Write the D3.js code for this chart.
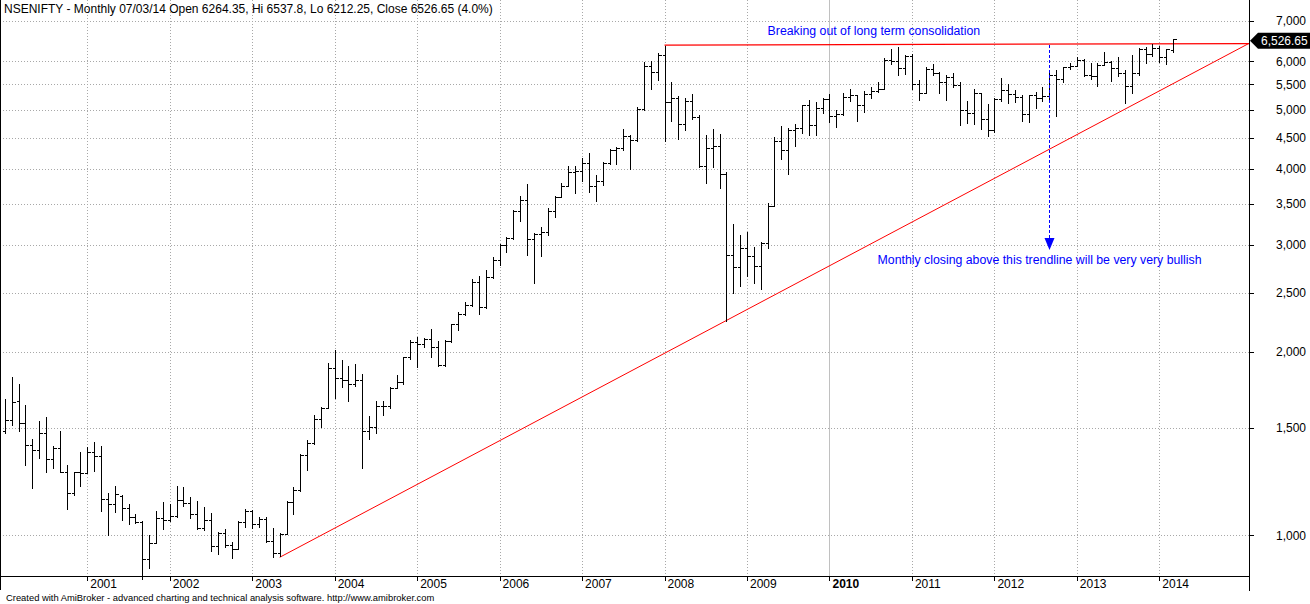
<!DOCTYPE html>
<html>
<head>
<meta charset="utf-8">
<script src="https://cdn.jsdelivr.net/npm/d3@7"></script>
<style>
  body { margin: 0; background: #fff; }
  text { font-family: Arial, "Liberation Sans", sans-serif; }
</style>
</head>
<body>
<div id="chart"></div>
<script>
// monthly NIFTY bars, Jan 2000 .. Mar 2014
const firstYear = 2000

const opens = [
  1482, 1546, 1662, 1529, 1406, 1381, 1471, 1333, 1393, 1271, 1173, 1269,
  1264, 1371, 1352, 1148, 1126, 1160, 1107, 1073, 1053, 913, 972, 1067,
  1059, 1075, 1142, 1130, 1084, 1028, 1058, 959, 1010, 963, 951, 1050,
  1094, 1042, 1063, 978, 934, 1006, 1134, 1185, 1356, 1418, 1555, 1615,
  1880, 1809, 1800, 1771, 1796, 1483, 1505, 1632, 1631, 1746, 1786, 1959,
  2080, 2058, 2103, 2036, 1902, 2087, 2221, 2312, 2385, 2601, 2370, 2652,
  2837, 3001, 3075, 3403, 3558, 3071, 3128, 3143, 3414, 3588, 3744, 3955,
  3966, 4083, 3745, 3822, 4087, 4296, 4318, 4529, 4464, 5021, 5901, 5763,
  6139, 5137, 5224, 4735, 5166, 4870, 4041, 4333, 4360, 3921, 2885, 2755,
  2959, 2874, 2763, 3021, 3474, 4449, 4291, 4636, 4662, 5084, 4712, 5033,
  5201, 4882, 4922, 5249, 5278, 5087, 5313, 5368, 5402, 6030, 6018, 5863,
  6135, 5506, 5333, 5834, 5750, 5561, 5647, 5482, 5001, 4943, 5327, 4832,
  4624, 5199, 5385, 5296, 5248, 4924, 5279, 5229, 5259, 5703, 5620, 5880,
  5905, 6035, 5693, 5683, 5930, 5986, 5842, 5742, 5472, 5735, 6299, 6176,
  6304, 6090, 6264.35
]
const highs = [
  1672, 1818, 1772, 1637, 1440, 1541, 1564, 1402, 1486, 1305, 1271, 1370,
  1398, 1423, 1402, 1172, 1207, 1165, 1125, 1084, 1057, 1001, 1096, 1133,
  1124, 1205, 1200, 1154, 1137, 1114, 1087, 1011, 1023, 975, 1057, 1103,
  1100, 1073, 1073, 1029, 1008, 1140, 1200, 1359, 1434, 1577, 1627, 1916,
  2015, 1941, 1897, 1911, 1841, 1571, 1662, 1664, 1755, 1834, 1965, 2093,
  2120, 2112, 2179, 2088, 2095, 2224, 2325, 2419, 2633, 2670, 2728, 2868,
  3010, 3087, 3422, 3609, 3776, 3133, 3205, 3453, 3609, 3786, 4042, 4046,
  4161, 4245, 3907, 4098, 4306, 4335, 4643, 4550, 5055, 5976, 6011, 6185,
  6357, 5545, 5272, 5230, 5298, 4908, 4540, 4650, 4560, 3950, 3240, 3110,
  3147, 2970, 3030, 3517, 4509, 4693, 4670, 4744, 5087, 5182, 5138, 5221,
  5311, 4990, 5330, 5400, 5279, 5367, 5450, 5550, 6073, 6284, 6338, 6147,
  6181, 5600, 5872, 5944, 5775, 5700, 5740, 5551, 5170, 5400, 5330, 5099,
  5217, 5630, 5499, 5379, 5279, 5286, 5348, 5449, 5735, 5815, 5885, 5965,
  6111, 6052, 5971, 5962, 6229, 6011, 6093, 5808, 6142, 6309, 6343, 6415,
  6358, 6283, 6537.8
]
const lows = [
  1470, 1518, 1486, 1305, 1197, 1341, 1268, 1292, 1271, 1106, 1165, 1207,
  1264, 1277, 1098, 1000, 1093, 1060, 1045, 1046, 849, 882, 970, 1023,
  1055, 1073, 1119, 1066, 1023, 1020, 941, 933, 956, 919, 951, 1033,
  1027, 1033, 975, 920, 925, 1005, 1084, 1180, 1280, 1410, 1508, 1615,
  1679, 1755, 1664, 1760, 1292, 1438, 1471, 1577, 1617, 1744, 1775, 1950,
  1892, 2040, 1965, 1897, 1896, 2080, 2175, 2300, 2376, 2307, 2360, 2650,
  2780, 2923, 3070, 3283, 2887, 2595, 2870, 3110, 3330, 3588, 3740, 3654,
  3824, 3668, 3545, 3765, 4070, 4075, 4300, 4002, 4440, 5000, 5400, 5600,
  4448, 4797, 4468, 4628, 4830, 4022, 3790, 4030, 3715, 2252, 2500, 2570,
  2661, 2600, 2539, 2965, 3470, 4143, 3918, 4353, 4570, 4538, 4538, 4943,
  4766, 4675, 4900, 5160, 4786, 4961, 5225, 5348, 5400, 5937, 5690, 5721,
  5416, 5178, 5330, 5693, 5328, 5195, 5453, 4720, 4758, 4728, 4640, 4531,
  4588, 5159, 5135, 5154, 4789, 4770, 5032, 5164, 5215, 4888, 5548, 5823,
  5900, 5671, 5604, 5477, 5910, 5566, 5675, 5118, 5318, 5700, 5972, 6130,
  5990, 5933, 6212.25
]
const closes = [
  1546, 1654, 1529, 1406, 1381, 1471, 1333, 1393, 1271, 1173, 1269, 1264,
  1371, 1352, 1148, 1126, 1167, 1107, 1073, 1053, 913, 972, 1067, 1059,
  1075, 1142, 1130, 1084, 1028, 1058, 959, 1010, 963, 951, 1050, 1094,
  1042, 1063, 978, 934, 1006, 1134, 1185, 1356, 1418, 1555, 1615, 1880,
  1809, 1800, 1771, 1796, 1483, 1505, 1632, 1631, 1746, 1786, 1959, 2080,
  2058, 2103, 2036, 1902, 2087, 2221, 2312, 2385, 2601, 2370, 2652, 2837,
  3001, 3075, 3403, 3558, 3071, 3128, 3143, 3414, 3588, 3744, 3955, 3966,
  4083, 3745, 3822, 4087, 4296, 4318, 4529, 4464, 5021, 5901, 5763, 6139,
  5137, 5224, 4735, 5166, 4870, 4041, 4333, 4360, 3921, 2885, 2755, 2959,
  2874, 2763, 3021, 3474, 4449, 4291, 4636, 4662, 5084, 4712, 5033, 5201,
  4882, 4922, 5249, 5278, 5087, 5313, 5368, 5402, 6030, 6018, 5863, 6135,
  5506, 5333, 5834, 5750, 5561, 5647, 5482, 5001, 4943, 5327, 4832, 4624,
  5199, 5385, 5296, 5248, 4924, 5279, 5229, 5259, 5703, 5620, 5880, 5905,
  6035, 5693, 5683, 5930, 5986, 5842, 5742, 5472, 5735, 6299, 6176, 6304,
  6090, 6277, 6526.65
]

const priceTicks = [1000, 1500, 2000, 2500, 3000, 3500, 4000, 4500, 5000, 5500, 6000, 7000]

const titleText = "NSENIFTY - Monthly 07/03/14 Open 6264.35, Hi 6537.8, Lo 6212.25, Close 6526.65 (4.0%)"
const footerText = "Created with AmiBroker - advanced charting and technical analysis software. http://www.amibroker.com"

// drawn lines as [bar index, price]
const supportLine = [[40, 920], [181.05, 6424]]
const resistanceLine = [[96, 6380], [181.05, 6420]]

const notes = [
  { text: "Breaking out of long term consolidation", bar: 111, price: 6640 },
  { text: "Monthly closing above this trendline will be very very bullish", bar: 127, price: 2794 }
]
const arrowBar = 152, arrowFrom = 6395, arrowTo = 2942

// set the dimensions of the graph
const W = 1310, H = 604
const plot = { left: 0, right: 1249, top: 0, bottom: 576 }

const svg = d3.select("#chart")
    .append("svg")
    .attr("width", W)
    .attr("height", H)
    .style("display", "block")

const bars = opens.map((o, i) => ({
    i: i,
    year: firstYear + Math.floor(i / 12),
    month: i % 12,
    o: o, h: highs[i], l: lows[i], c: closes[i]
}))

const x = d3.scaleLinear()
    .domain([-0.7, 181.05])
    .range([plot.left, plot.right])

const y = d3.scaleLog()
    .domain([857.2, 7569])
    .range([plot.bottom, plot.top])

const yearStarts = bars.filter(d => d.month === 0 && d.i > 0)

// grid
const grid = svg.append("g").attr("shape-rendering", "crispEdges")
grid.selectAll(".hgrid")
    .data(priceTicks)
    .join("line")
    .attr("x1", plot.left).attr("x2", plot.right)
    .attr("y1", d => Math.round(y(d)) + 0.5)
    .attr("y2", d => Math.round(y(d)) + 0.5)
    .attr("stroke", "#a8a8a8")
    .attr("stroke-dasharray", "1,2")
grid.selectAll(".vgrid")
    .data(yearStarts)
    .join("line")
    .attr("x1", d => Math.round(x(d.i)) + 0.5)
    .attr("x2", d => Math.round(x(d.i)) + 0.5)
    .attr("y1", plot.top).attr("y2", plot.bottom)
    .attr("stroke", d => d.year % 10 === 0 ? "#c0c0c0" : "#a8a8a8")
    .attr("stroke-dasharray", d => d.year % 10 === 0 ? null : "1,2")

// red lines
const linePt = p => [x(p[0]), y(p[1])]
svg.append("line")
    .attr("x1", linePt(supportLine[0])[0]).attr("y1", linePt(supportLine[0])[1])
    .attr("x2", linePt(supportLine[1])[0]).attr("y2", linePt(supportLine[1])[1])
    .attr("stroke", "#ff0000").attr("stroke-width", 1)
svg.append("line")
    .attr("x1", linePt(resistanceLine[0])[0]).attr("y1", linePt(resistanceLine[0])[1])
    .attr("x2", linePt(resistanceLine[1])[0]).attr("y2", linePt(resistanceLine[1])[1])
    .attr("stroke", "#ff0000").attr("stroke-width", 1.2)

// the OHLC bars
const px = v => Math.round(v) + 0.5
svg.append("g")
    .attr("shape-rendering", "crispEdges")
    .selectAll("path")
    .data(bars)
    .join("path")
    .attr("d", d => {
        const cx = px(x(d.i))
        return `M${cx},${px(y(d.h)) - 0.5}V${px(y(d.l)) + 0.5}` +
            `M${cx - 3},${px(y(d.o))}H${cx}` +
            `M${cx},${px(y(d.c))}H${cx + 3.5}`
    })
    .attr("fill", "none")
    .attr("stroke", "#000")
    .attr("stroke-width", 1)

// dashed arrow
const ax = px(x(arrowBar))
svg.append("line")
    .attr("x1", ax).attr("x2", ax)
    .attr("y1", y(arrowFrom)).attr("y2", y(arrowTo) - 10)
    .attr("stroke", "#0000ff")
    .attr("stroke-dasharray", "3,2")
    .attr("shape-rendering", "crispEdges")
svg.append("path")
    .attr("d", `M${ax - 5},${y(arrowTo) - 12}L${ax + 5},${y(arrowTo) - 12}L${ax},${y(arrowTo)}Z`)
    .attr("fill", "#0000ff")

// notes
svg.selectAll(".note")
    .data(notes)
    .join("text")
    .attr("x", d => x(d.bar))
    .attr("y", d => y(d.price))
    .attr("font-size", 12.3)
    .attr("fill", "#0000ff")
    .text(d => d.text)

// axes frame
const axes = svg.append("g").attr("shape-rendering", "crispEdges")
axes.append("line")
    .attr("x1", 0.5).attr("x2", 0.5).attr("y1", 0).attr("y2", 590)
    .attr("stroke", "#000")
axes.append("line")
    .attr("x1", plot.right + 0.5).attr("x2", plot.right + 0.5).attr("y1", 0).attr("y2", 591)
    .attr("stroke", "#000")
axes.append("line")
    .attr("x1", 0).attr("x2", plot.right).attr("y1", plot.bottom + 0.5).attr("y2", plot.bottom + 0.5)
    .attr("stroke", "#000")

// right price axis
axes.selectAll(".ytick")
    .data(priceTicks)
    .join("line")
    .attr("x1", plot.right).attr("x2", plot.right + 5)
    .attr("y1", d => Math.round(y(d)) + 0.5)
    .attr("y2", d => Math.round(y(d)) + 0.5)
    .attr("stroke", "#000")
svg.selectAll(".ylabel")
    .data(priceTicks)
    .join("text")
    .attr("x", 1306)
    .attr("y", d => y(d) + 4.3)
    .attr("text-anchor", "end")
    .attr("font-size", 12)
    .attr("fill", "#000")
    .text(d => d3.format(",")(d))

// bottom year axis
axes.selectAll(".xtick")
    .data(yearStarts)
    .join("line")
    .attr("x1", d => Math.round(x(d.i)) + 0.5)
    .attr("x2", d => Math.round(x(d.i)) + 0.5)
    .attr("y1", plot.bottom).attr("y2", plot.bottom + 5)
    .attr("stroke", "#000")
svg.selectAll(".xlabel")
    .data(yearStarts)
    .join("text")
    .attr("x", d => x(d.i) + 3)
    .attr("y", 588.3)
    .attr("font-size", 12)
    .attr("font-weight", d => d.year % 10 === 0 ? "bold" : "normal")
    .attr("fill", "#000")
    .text(d => d.year)

// last price marker
const last = bars[bars.length - 1]
const cy = y(last.c) + 1.5
svg.append("path")
    .attr("d", `M${plot.right + 1},${cy}L${plot.right + 9},${cy - 8}H${W}V${cy + 8}H${plot.right + 9}Z`)
    .attr("fill", "#000")
svg.append("text")
    .attr("x", 1261)
    .attr("y", cy + 4.4)
    .attr("font-size", 12)
    .attr("fill", "#fff")
    .text(d3.format(",.2f")(last.c))

// title and footer
svg.append("text")
    .attr("x", 4).attr("y", 12.7)
    .attr("font-size", 12)
    .attr("fill", "#000")
    .text(titleText)
svg.append("text")
    .attr("x", 6).attr("y", 600.5)
    .attr("font-size", 9.4)
    .attr("fill", "#000")
    .text(footerText)
</script>
</body>
</html>
